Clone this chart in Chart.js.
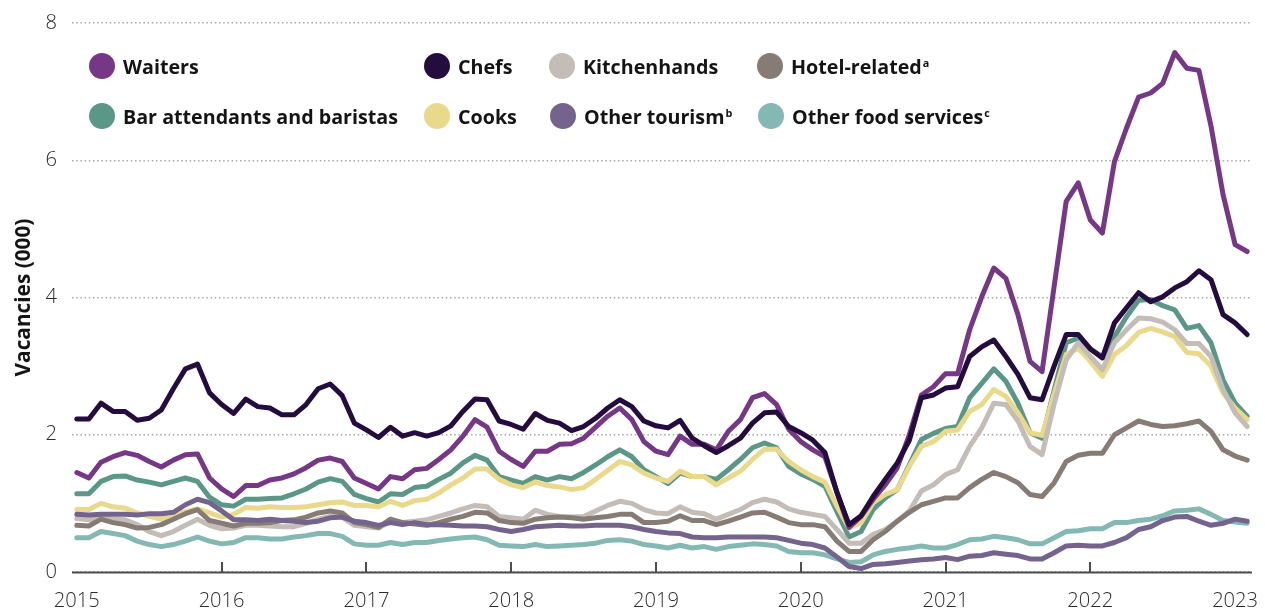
<!DOCTYPE html>
<html>
<head>
<meta charset="utf-8">
<script src="https://cdn.jsdelivr.net/npm/chart.js@4.4.1/dist/chart.umd.min.js"></script>
<style>
html,body{margin:0;padding:0;background:#fff;}
#wrap{width:1265px;height:610px;position:relative;}
</style>
</head>
<body>
<div id="wrap"><canvas id="c" width="1265" height="610"></canvas></div>
<script>
// ---------------- DATA (monthly, Jan 2015 - Feb 2023), vacancies in '000 ----------------
const yearLabels = ['2015','2016','2017','2018','2019','2020','2021','2022','2023'];

const waiters = [1.45,1.37,1.60,1.68,1.74,1.70,1.61,1.53,1.63,1.71,1.72,1.37,
 1.21,1.10,1.26,1.26,1.34,1.37,1.43,1.52,1.63,1.66,1.61,1.37,
 1.29,1.21,1.39,1.36,1.49,1.51,1.64,1.78,1.98,2.22,2.11,1.76,
 1.64,1.54,1.76,1.76,1.86,1.87,1.95,2.11,2.27,2.39,2.22,1.90,
 1.76,1.71,1.98,1.86,1.86,1.78,2.05,2.22,2.54,2.60,2.44,2.08,
 1.90,1.78,1.68,1.16,0.65,0.81,1.06,1.27,1.52,2.00,2.58,2.70,
 2.89,2.89,3.53,4.01,4.43,4.28,3.75,3.07,2.92,4.16,5.40,5.67,
 5.13,4.94,5.98,6.47,6.92,6.98,7.12,7.57,7.34,7.31,6.50,5.50,
 4.77,4.67];

const chefs = [2.23,2.23,2.46,2.34,2.34,2.21,2.24,2.36,2.67,2.96,3.03,2.61,
 2.44,2.31,2.52,2.41,2.39,2.29,2.29,2.44,2.67,2.74,2.57,2.17,
 2.07,1.96,2.11,1.98,2.03,1.98,2.03,2.13,2.34,2.52,2.51,2.20,
 2.15,2.08,2.31,2.21,2.17,2.06,2.12,2.24,2.39,2.51,2.41,2.20,
 2.13,2.10,2.21,1.95,1.84,1.74,1.84,1.95,2.17,2.32,2.33,2.12,
 2.03,1.92,1.74,1.16,0.69,0.82,1.10,1.35,1.59,1.92,2.54,2.58,
 2.68,2.70,3.14,3.28,3.38,3.14,2.88,2.54,2.51,3.00,3.46,3.46,
 3.25,3.12,3.63,3.85,4.07,3.94,4.01,4.14,4.23,4.39,4.26,3.75,
 3.63,3.46];

const kitchenhands = [0.78,0.76,0.80,0.77,0.76,0.69,0.59,0.53,0.59,0.68,0.77,0.68,
 0.63,0.64,0.68,0.68,0.67,0.66,0.66,0.71,0.77,0.81,0.80,0.68,
 0.66,0.64,0.74,0.72,0.74,0.76,0.81,0.86,0.92,0.97,0.95,0.81,
 0.79,0.77,0.90,0.84,0.81,0.80,0.81,0.89,0.97,1.03,1.00,0.91,
 0.86,0.85,0.95,0.87,0.85,0.77,0.84,0.91,1.01,1.06,1.02,0.92,
 0.87,0.84,0.81,0.62,0.42,0.42,0.55,0.62,0.74,0.89,1.18,1.27,
 1.42,1.49,1.83,2.10,2.46,2.44,2.20,1.83,1.71,2.45,3.09,3.34,
 3.14,2.95,3.34,3.53,3.70,3.69,3.64,3.53,3.33,3.33,3.14,2.66,
 2.32,2.12];

const hotelRelated = [0.68,0.67,0.77,0.72,0.69,0.64,0.65,0.69,0.77,0.85,0.91,0.75,
 0.71,0.67,0.71,0.71,0.72,0.75,0.76,0.80,0.86,0.89,0.86,0.72,
 0.69,0.65,0.77,0.72,0.70,0.68,0.72,0.77,0.81,0.87,0.86,0.75,
 0.72,0.71,0.77,0.79,0.80,0.79,0.77,0.79,0.81,0.84,0.84,0.72,
 0.72,0.74,0.82,0.75,0.75,0.69,0.74,0.80,0.86,0.87,0.80,0.72,
 0.69,0.69,0.66,0.45,0.30,0.30,0.47,0.59,0.74,0.87,0.98,1.03,
 1.08,1.08,1.23,1.35,1.45,1.39,1.30,1.13,1.10,1.30,1.61,1.70,
 1.73,1.73,2.00,2.10,2.20,2.15,2.12,2.13,2.16,2.20,2.05,1.78,
 1.69,1.63];

const barAttendants = [1.14,1.14,1.32,1.39,1.40,1.34,1.31,1.27,1.32,1.37,1.32,1.09,
 0.98,0.96,1.06,1.06,1.07,1.08,1.14,1.21,1.31,1.36,1.32,1.13,
 1.07,1.02,1.14,1.13,1.23,1.25,1.35,1.44,1.59,1.70,1.63,1.39,
 1.34,1.29,1.39,1.34,1.39,1.36,1.45,1.56,1.68,1.78,1.68,1.49,
 1.39,1.29,1.44,1.39,1.39,1.35,1.49,1.64,1.81,1.88,1.81,1.54,
 1.43,1.35,1.25,0.88,0.51,0.59,0.91,1.08,1.20,1.56,1.93,2.02,
 2.09,2.12,2.54,2.75,2.96,2.78,2.46,2.03,1.95,2.65,3.34,3.41,
 3.25,3.14,3.43,3.72,3.96,3.97,3.88,3.82,3.55,3.59,3.34,2.80,
 2.46,2.27];

const cooks = [0.91,0.91,1.00,0.95,0.93,0.86,0.81,0.77,0.84,0.88,0.92,0.86,
 0.80,0.84,0.94,0.93,0.95,0.94,0.94,0.95,0.98,1.01,1.02,0.97,
 0.97,0.95,1.03,0.97,1.04,1.06,1.15,1.27,1.37,1.50,1.50,1.35,
 1.27,1.23,1.31,1.26,1.24,1.20,1.23,1.35,1.48,1.61,1.56,1.44,
 1.37,1.32,1.47,1.39,1.39,1.27,1.37,1.47,1.64,1.79,1.79,1.61,
 1.49,1.39,1.31,0.96,0.64,0.72,1.01,1.13,1.20,1.54,1.83,1.90,
 2.05,2.07,2.34,2.44,2.66,2.56,2.32,2.03,1.99,2.60,3.17,3.26,
 3.07,2.85,3.17,3.30,3.49,3.55,3.50,3.43,3.20,3.18,3.00,2.61,
 2.39,2.22];

const otherTourism = [0.84,0.83,0.84,0.84,0.84,0.83,0.85,0.85,0.87,0.98,1.06,1.01,
 0.89,0.76,0.76,0.75,0.77,0.75,0.74,0.72,0.74,0.79,0.80,0.74,
 0.72,0.68,0.72,0.69,0.72,0.69,0.69,0.68,0.67,0.67,0.66,0.62,
 0.59,0.62,0.66,0.67,0.68,0.67,0.67,0.68,0.68,0.68,0.66,0.62,
 0.59,0.57,0.56,0.51,0.50,0.50,0.51,0.51,0.51,0.51,0.50,0.46,
 0.42,0.40,0.35,0.22,0.08,0.05,0.11,0.12,0.14,0.16,0.18,0.19,
 0.21,0.18,0.23,0.24,0.28,0.26,0.24,0.19,0.19,0.28,0.38,0.39,
 0.38,0.38,0.43,0.50,0.62,0.66,0.75,0.80,0.81,0.74,0.68,0.71,
 0.77,0.74];

const otherFoodServices = [0.50,0.50,0.59,0.56,0.53,0.45,0.40,0.37,0.40,0.45,0.51,0.45,
 0.41,0.43,0.50,0.50,0.48,0.48,0.51,0.53,0.56,0.56,0.52,0.41,
 0.39,0.39,0.43,0.40,0.43,0.43,0.46,0.48,0.50,0.51,0.47,0.39,
 0.38,0.37,0.40,0.37,0.38,0.39,0.40,0.42,0.46,0.47,0.45,0.40,
 0.38,0.35,0.39,0.35,0.37,0.33,0.37,0.39,0.41,0.40,0.38,0.30,
 0.28,0.28,0.25,0.19,0.14,0.15,0.25,0.30,0.33,0.35,0.38,0.35,
 0.35,0.40,0.47,0.48,0.52,0.50,0.47,0.41,0.41,0.50,0.59,0.60,
 0.63,0.63,0.72,0.72,0.75,0.77,0.82,0.89,0.90,0.92,0.84,0.75,
 0.73,0.71];

// ---------------- STYLE ----------------
const FAMILY = "'Open Sans', 'DejaVu Sans', sans-serif";
const COLORS = {
  waiters:'#763786', chefs:'#240C3E', kitchen:'#C3BCB7', hotel:'#877C75',
  bar:'#5B9787', cooks:'#E9D98A', tourism:'#74648D', ofs:'#84B8B3'
};

function fitSize(text, weight, target){
  const c = document.createElement('canvas').getContext('2d');
  c.font = weight + ' 20px ' + FAMILY;
  return 20 * target / c.measureText(text).width;
}
const legendSize = fitSize('Bar attendants and baristas', 700, 275);
const tickSize = fitSize('2015', 300, 46);
const titleSize = fitSize('Vacancies (000)', 700, 158);

// Legend layout (label text, superscript, colour, column/row)
const legendItems = [
  {text:'Waiters', sup:'', color:COLORS.waiters, cx:102, cy:66},
  {text:'Chefs', sup:'', color:COLORS.chefs, cx:437, cy:66},
  {text:'Kitchenhands', sup:'', color:COLORS.kitchen, cx:562, cy:66},
  {text:'Hotel-related', sup:'a', color:COLORS.hotel, cx:770, cy:66},
  {text:'Bar attendants and baristas', sup:'', color:COLORS.bar, cx:102, cy:116},
  {text:'Cooks', sup:'', color:COLORS.cooks, cx:437, cy:116},
  {text:'Other tourism', sup:'b', color:COLORS.tourism, cx:563, cy:116},
  {text:'Other food services', sup:'c', color:COLORS.ofs, cx:771, cy:116}
];

function series(label, values, color){
  return {
    label, data: values.map((v,i)=>({x:i, y:v})),
    borderColor: color, backgroundColor: color,
    borderWidth: 5, pointRadius: 0, pointHoverRadius: 0,
    tension: 0, borderJoinStyle: 'round', borderCapStyle: 'round', fill: false
  };
}

// first dataset is drawn on top
const datasets = [
  series('Chefs', chefs, COLORS.chefs),
  series('Waiters', waiters, COLORS.waiters),
  series('Other tourism', otherTourism, COLORS.tourism),
  series('Hotel-related', hotelRelated, COLORS.hotel),
  series('Kitchenhands', kitchenhands, COLORS.kitchen),
  series('Cooks', cooks, COLORS.cooks),
  series('Bar attendants and baristas', barAttendants, COLORS.bar),
  series('Other food services', otherFoodServices, COLORS.ofs)
];

const decor = {
  id: 'decor',
  afterDatasetsDraw(chart){
    const {ctx, chartArea:a, scales:{x}} = chart;
    ctx.save();
    // axis line and inward year ticks
    ctx.strokeStyle = '#4d4d4d';
    ctx.lineWidth = 2;
    ctx.beginPath();
    ctx.moveTo(a.left, a.bottom + 0.5); ctx.lineTo(a.right, a.bottom + 0.5);
    ctx.stroke();
    for (let k = 1; k < yearLabels.length - 1; k++){
      const px = Math.round(x.getPixelForValue(k * 12));
      ctx.beginPath();
      ctx.moveTo(px, a.bottom - 10); ctx.lineTo(px, a.bottom);
      ctx.stroke();
    }
    // legend
    ctx.textBaseline = 'alphabetic';
    ctx.textAlign = 'left';
    legendItems.forEach(it => {
      ctx.fillStyle = it.color;
      ctx.beginPath(); ctx.arc(it.cx, it.cy, 13, 0, Math.PI * 2); ctx.fill();
      ctx.fillStyle = '#141414';
      ctx.font = '700 ' + legendSize.toFixed(2) + 'px ' + FAMILY;
      const tx = it.cx + 21, base = it.cy + 8;
      ctx.fillText(it.text, tx, base);
      if (it.sup){
        const w = ctx.measureText(it.text).width;
        ctx.font = '700 ' + (legendSize * 0.55).toFixed(2) + 'px ' + FAMILY;
        ctx.fillText(it.sup, tx + w + 1, base - 7);
      }
    });
    ctx.restore();
  }
};

new Chart(document.getElementById('c'), {
  type: 'line',
  data: { datasets },
  options: {
    responsive: false,
    devicePixelRatio: 1,
    animation: false,
    layout: { padding: { left: 0, right: 13, top: 23, bottom: 0 } },
    plugins: { legend: { display: false }, tooltip: { enabled: false } },
    scales: {
      x: {
        type: 'linear', min: -0.4, max: 97.4,
        afterFit(s){ s.height = 38; s.paddingLeft = 0; s.paddingRight = 0; },
        afterBuildTicks(s){ s.ticks = yearLabels.map((_, k) => ({ value: k * 12 })); },
        grid: { display: false, drawTicks: false },
        border: { display: false },
        ticks: {
          autoSkip: false, maxRotation: 0, padding: 17,
          color: '#2b2b2b', font: { family: FAMILY, size: tickSize, weight: 300 },
          callback: v => yearLabels[Math.round(v / 12)]
        }
      },
      y: {
        min: 0, max: 8,
        afterFit(s){ s.width = 72; s.paddingTop = 0; s.paddingBottom = 0; },
        ticks: {
          stepSize: 2, padding: 15, color: '#2b2b2b',
          font: { family: FAMILY, size: tickSize, weight: 300 }
        },
        grid: { color: '#a8a8a8', lineWidth: 1.5, drawTicks: false },
        border: { display: false, dash: [1.5, 2.7] },
        title: {
          display: true, text: 'Vacancies (000)', color: '#141414',
          font: { family: FAMILY, size: titleSize, weight: 700 },
          padding: { top: 12, bottom: 0 }
        }
      }
    }
  },
  plugins: [decor]
});
</script>
</body>
</html>
